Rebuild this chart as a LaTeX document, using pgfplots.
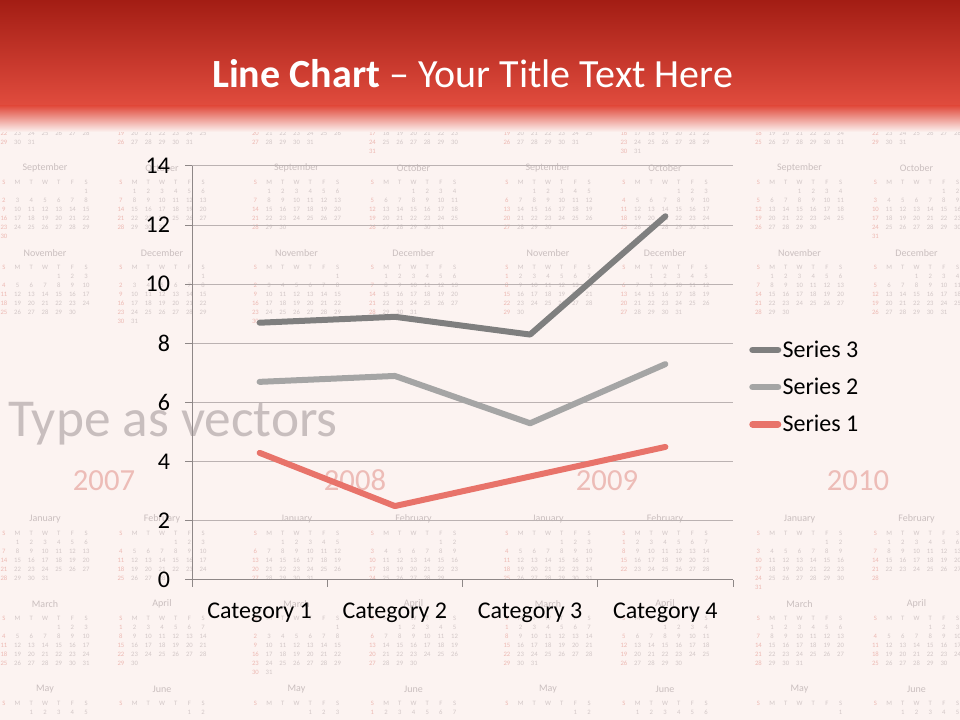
\documentclass[border=0pt]{standalone}
\usepackage{fontspec}
\setmainfont{Carlito}
\usepackage{pgfplots}
\pgfplotsset{compat=1.18}

\definecolor{bg}{HTML}{FCF3F1}
\definecolor{redtop}{HTML}{A31D14}
\definecolor{redbot}{HTML}{E14C3E}
\definecolor{sThree}{HTML}{7F7F7F}
\definecolor{sTwo}{HTML}{A5A5A5}
\definecolor{sOne}{HTML}{E8736A}
\definecolor{gridc}{HTML}{BBB2B2}
\definecolor{axisc}{HTML}{8E8787}
\definecolor{calnum}{HTML}{D2C7C7}
\definecolor{calsun}{HTML}{EDB9B3}
\definecolor{caltitle}{HTML}{CABFBF}
\definecolor{typec}{HTML}{C8BEBE}
\definecolor{yearc}{HTML}{EDBCB7}

\newcommand\calfont{\fontsize{5}{5}\selectfont}
\newcommand\caltitlefont{\fontsize{7.5}{7.5}\selectfont}

% x centre, title y (px, downward), month name, first weekday (0=Sun), days
\newcommand\calblock[5]{%
  \node[text=caltitle,font=\caltitlefont,inner sep=0pt] at (#1,#2) {#3};
  \foreach \h [count=\i from 0] in {S,M,T,W,T,F,S} {%
    \ifnum\i=0 \def\cc{calsun}\else\def\cc{calnum}\fi
    \node[text=\cc,font=\calfont,inner sep=0pt] at ({#1+(\i-3)*13.7},{#2+14}) {\h};
  }
  \foreach \d in {1,...,#5} {%
    \pgfmathtruncatemacro\p{\d+#4-1}%
    \pgfmathtruncatemacro\c{mod(\p,7)}%
    \pgfmathtruncatemacro\r{floor(\p/7)}%
    \pgfmathtruncatemacro\yy{#2+23+9*\r}%
    \ifnum\c=0 \def\cc{calsun}\else\def\cc{calnum}\fi
    \ifnum\yy<717
      \node[text=\cc,font=\calfont,inner sep=0pt] at ({#1+(\c-3)*13.7},\yy) {\d};
    \fi
  }%
}

\begin{document}
\begin{tikzpicture}
\useasboundingbox (0,0) rectangle (720pt,540pt);
\clip (0,0) rectangle (720pt,540pt);
\fill[bg] (0,0) rectangle (720pt,540pt);

% decorative calendar background (pixel coordinates, y downward)
\begin{scope}[shift={(0,540pt)},x=0.75pt,y=-0.75pt]
\foreach \xL/\ja/\fe/\fn/\ma/\ap/\my/\jn/\jl/\au/\se/\oc/\no/\de in {
   45/1/4/28/4/0/2/5/0/3/6/1/4/6,
  296.5/2/5/29/6/2/4/0/2/5/1/3/6/1,
  548/4/0/28/0/3/5/1/3/6/2/4/0/2,
  799.5/5/1/28/1/4/6/2/4/0/3/5/1/3} {
  \pgfmathsetmacro\xR{\xL+117}
  \calblock{\xL}{83}{July}{\jl}{31}
  \calblock{\xR}{83}{August}{\au}{31}
  \calblock{\xL}{168}{September}{\se}{30}
  \calblock{\xR}{168}{October}{\oc}{31}
  \calblock{\xL}{253}{November}{\no}{30}
  \calblock{\xR}{253}{December}{\de}{31}
  \calblock{\xL}{519}{January}{\ja}{31}
  \calblock{\xR}{519}{February}{\fe}{\fn}
  \calblock{\xL}{604}{March}{\ma}{31}
  \calblock{\xR}{604}{April}{\ap}{30}
  \calblock{\xL}{689}{May}{\my}{31}
  \calblock{\xR}{689}{June}{\jn}{30}
}
\node[text=typec,font=\fontsize{40}{40}\selectfont,anchor=base west,inner sep=0pt] at (8,437) {Type as vectors};
\foreach \yx/\yy in {104/2007,355/2008,607/2009,858/2010}
  \node[text=yearc,font=\fontsize{23}{23}\selectfont,anchor=base,inner sep=0pt] at (\yx,491) {\yy};
\end{scope}

% title banner
\shade[top color=redtop,bottom color=redbot] (0,460.5pt) rectangle (720pt,540pt);
\shade[top color=redbot,bottom color=bg] (0,441pt) rectangle (720pt,460.5pt);
\node[text=white,font=\fontsize{30}{30}\selectfont,anchor=base,inner sep=0pt] at (354.5pt,474pt) {\textbf{Line Chart} – Your Title Text Here};

\begin{axis}[
  at={(144pt,105pt)}, anchor=south west,
  scale only axis, width=405.75pt, height=310.5pt,
  xmin=0.5, xmax=4.5, ymin=0, ymax=14,
  xtick={0.5,1.5,2.5,3.5,4.5}, xticklabels={},
  extra x ticks={1,2,3,4},
  extra x tick labels={Category 1,Category 2,Category 3,Category 4},
  extra x tick style={major tick length=0pt, xticklabel style={yshift=-14pt}},
  ytick={0,2,...,14},
  axis lines*=left,
  axis line style={axisc, line width=0.75pt},
  ymajorgrids, major grid style={gridc, line width=0.75pt},
  tick align=outside, major tick length=5pt,
  tick style={axisc, line width=0.75pt},
  ticklabel style={font=\fontsize{18}{20}\selectfont, text=black},
  /pgf/number format/assume math mode=true,
  yticklabel style={xshift=-8pt},
  stack plots=y,
  every axis plot/.append style={line width=4.5pt, line cap=round, line join=round},
  reverse legend,
  legend style={at={(1,0.466)}, anchor=west, xshift=12pt, draw=none, fill=none,
    font=\fontsize{18}{20}\selectfont, inner sep=0pt, row sep=10pt,
    nodes={inner xsep=1pt}},
  legend cell align=left,
  legend image code/.code={\draw[#1,line width=5pt,line cap=round] (0pt,0pt) -- (19pt,0pt);},
]
\addplot[sOne, no marks] coordinates {(1,4.3) (2,2.5) (3,3.5) (4,4.5)};
\addlegendentry{Series 1}
\addplot[sTwo, no marks] coordinates {(1,2.4) (2,4.4) (3,1.8) (4,2.8)};
\addlegendentry{Series 2}
\addplot[sThree, no marks] coordinates {(1,2) (2,2) (3,3) (4,5)};
\addlegendentry{Series 3}
\end{axis}
\end{tikzpicture}
\end{document}
